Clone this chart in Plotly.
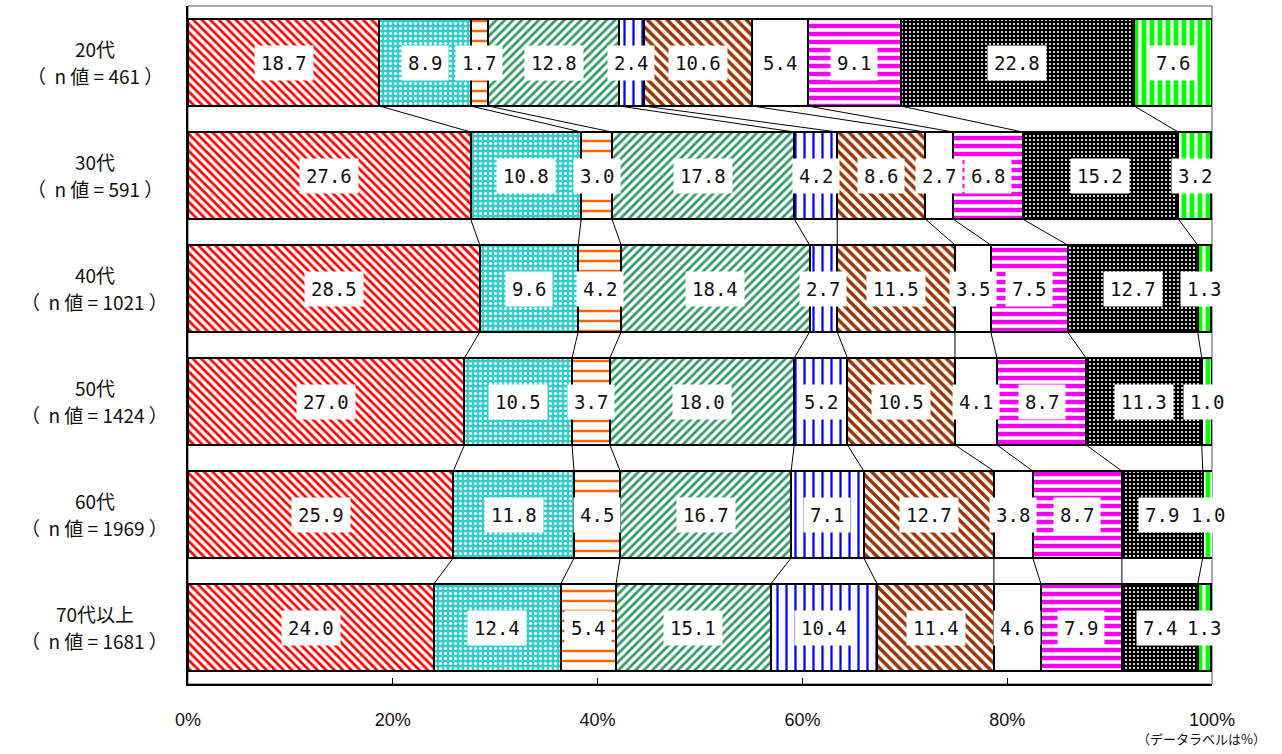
import plotly.graph_objects as go
import numpy as np

# Age groups (top to bottom) and sample sizes
age_groups = ["20代", "30代", "40代", "50代", "60代", "70代以上"]
n_values = [461, 591, 1021, 1424, 1969, 1681]

# Percentage shares per answer category, one list per age group order
s1 = [18.7, 27.6, 28.5, 27.0, 25.9, 24.0]
s2 = [8.9, 10.8, 9.6, 10.5, 11.8, 12.4]
s3 = [1.7, 3.0, 4.2, 3.7, 4.5, 5.4]
s4 = [12.8, 17.8, 18.4, 18.0, 16.7, 15.1]
s5 = [2.4, 4.2, 2.7, 5.2, 7.1, 10.4]
s6 = [10.6, 8.6, 11.5, 10.5, 12.7, 11.4]
s7 = [5.4, 2.7, 3.5, 4.1, 3.8, 4.6]
s8 = [9.1, 6.8, 7.5, 8.7, 8.7, 7.9]
s9 = [22.8, 15.2, 12.7, 11.3, 7.9, 7.4]
s10 = [7.6, 3.2, 1.3, 1.0, 1.0, 1.3]
series = [s1, s2, s3, s4, s5, s6, s7, s8, s9, s10]

x_ticks = [0, 20, 40, 60, 80, 100]
x_ticktext = ["0%", "20%", "40%", "60%", "80%", "100%"]

# Fill styles for each series: (shape, foreground, background, size, solidity)
styles = [
    ("\\", "#FF0000", "#FFFFFF", 6, 0.45),
    (".", "#FFFFFF", "#33CCCC", 5, 0.3),
    ("-", "#FF6600", "#FFFFFF", 10, 0.25),
    ("/", "#339966", "#FFFFFF", 6, 0.45),
    ("|", "#0000FF", "#FFFFFF", 9, 0.25),
    ("\\", "#993300", "#FFFFFF", 7, 0.5),
    ("", "#FFFFFF", "#FFFFFF", 8, 0.0),
    ("-", "#FF00FF", "#FFFFFF", 8, 0.55),
    (".", "#FFFFFF", "#000000", 4, 0.22),
    ("|", "#00FF00", "#FFFFFF", 8, 0.6),
]

FONT = "Liberation Sans, Arial, Noto Sans CJK JP, sans-serif"
MONO = "DejaVu Sans Mono, Liberation Mono, monospace"
JFONT = "Noto Sans CJK JP, Liberation Sans, sans-serif"
BAR_W = 0.77
ypos = list(range(len(age_groups)))

fig = go.Figure()
for vals, (shape, fg, bg, size, sol) in zip(series, styles):
    if shape:
        marker = dict(color=fg, line=dict(color="#000000", width=2),
                      pattern=dict(shape=shape, fgcolor=fg, bgcolor=bg,
                                   size=size, solidity=sol, fillmode="replace"))
    else:
        marker = dict(color=bg, line=dict(color="#000000", width=2))
    fig.add_trace(go.Bar(x=vals, y=ypos, orientation="h", width=BAR_W,
                         marker=marker, showlegend=False, hoverinfo="skip"))

# Connector lines between cumulative boundaries of adjacent bars
cum = np.cumsum(np.array(series), axis=0)  # shape (series, groups)
lx, ly = [], []
for g in range(len(age_groups) - 1):
    for k in range(len(series) - 1):
        lx += [cum[k, g], cum[k, g + 1], None]
        ly += [g + BAR_W / 2, g + 1 - BAR_W / 2, None]
fig.add_trace(go.Scatter(x=lx, y=ly, mode="lines",
                         line=dict(color="#000000", width=1),
                         showlegend=False, hoverinfo="skip"))

# Value labels in white boxes at segment centres
annotations = []
for k, vals in enumerate(series):
    for g, v in enumerate(vals):
        centre = cum[k, g] - v / 2
        annotations.append(dict(
            x=centre, y=g, xref="x", yref="y", text=f"{v:.1f}",
            showarrow=False, bgcolor="#FFFFFF", borderpad=6,
            font=dict(family=MONO, size=19, color="#111111")))

# Category labels on the left (two lines each)
for g, (name, n) in enumerate(zip(age_groups, n_values)):
    annotations.append(dict(
        x=-0.091, y=g, xref="paper", yref="y", yshift=14,
        text=name, showarrow=False, xanchor="center", yanchor="middle",
        font=dict(family=JFONT, size=19, color="#111111")))
    annotations.append(dict(
        x=-0.091, y=g, xref="paper", yref="y", yshift=-13,
        text=f"（  n 値 = {n} ）", showarrow=False, xanchor="center", yanchor="middle",
        font=dict(family=JFONT, size=19, color="#111111")))

annotations.append(dict(
    x=1.0, y=0, xref="paper", yref="paper", xshift=56, yshift=-54,
    text="（データラベルは%）", showarrow=False, xanchor="right", yanchor="middle",
    font=dict(family=JFONT, size=13, color="#111111")))

# Outer frame of the plotting area
shapes = [dict(type="rect", xref="paper", yref="paper", x0=0, x1=1, y0=0, y1=1,
               line=dict(color="#555555", width=1), fillcolor="rgba(0,0,0,0)",
               layer="below")]

fig.update_layout(
    width=1282, height=754,
    margin=dict(l=188, r=70, t=6, b=70),
    paper_bgcolor="#FFFFFF", plot_bgcolor="#FFFFFF",
    barmode="stack", bargap=0,
    annotations=annotations, shapes=shapes,
    xaxis=dict(range=[0, 100], tickvals=x_ticks, ticktext=x_ticktext,
               ticks="inside", ticklen=6, tickcolor="#000000",
               showline=True, linecolor="#000000", linewidth=2,
               showgrid=False, zeroline=False, ticklabelstandoff=18,
               tickfont=dict(family=FONT, size=18, color="#111111")),
    yaxis=dict(range=[len(age_groups) - 0.5, -0.5], showticklabels=False,
               showline=True, linecolor="#000000", linewidth=2,
               showgrid=False, zeroline=False, ticks=""),
)

fig.write_html("out.html")
